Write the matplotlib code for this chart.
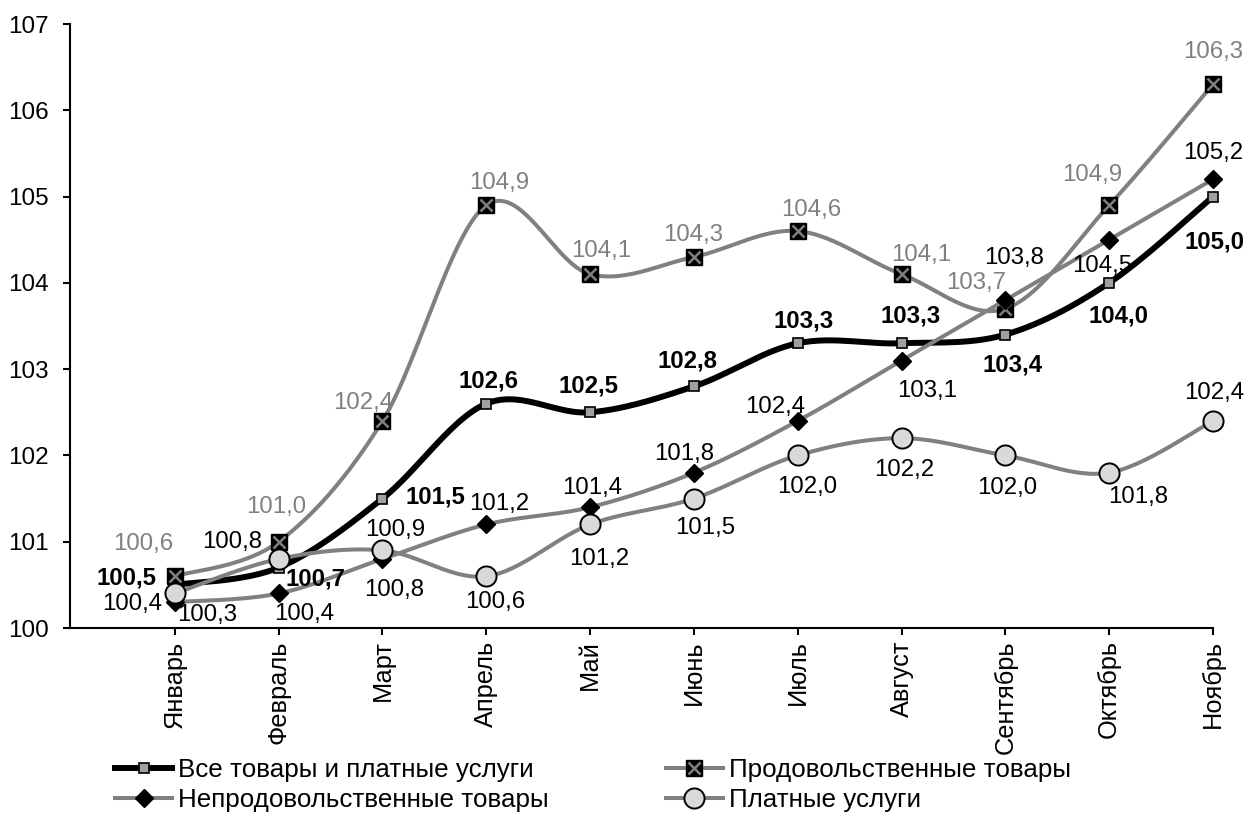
import numpy as np
import matplotlib
matplotlib.use("Agg")
import matplotlib.pyplot as plt
from matplotlib.lines import Line2D
from matplotlib.legend_handler import HandlerTuple

plt.rcParams['font.family'] = ['Liberation Sans', 'DejaVu Sans']

months = ["Январь", "Февраль", "Март", "Апрель", "Май", "Июнь", "Июль",
          "Август", "Сентябрь", "Октябрь", "Ноябрь"]
all_goods = [100.5, 100.7, 101.5, 102.6, 102.5, 102.8, 103.3, 103.3, 103.4, 104.0, 105.0]
food = [100.6, 101.0, 102.4, 104.9, 104.1, 104.3, 104.6, 104.1, 103.7, 104.9, 106.3]
nonfood = [100.3, 100.4, 100.8, 101.2, 101.4, 101.8, 102.4, 103.1, 103.8, 104.5, 105.2]
services = [100.4, 100.8, 100.9, 100.6, 101.2, 101.5, 102.0, 102.2, 102.0, 101.8, 102.4]
yticks = [100, 101, 102, 103, 104, 105, 106, 107]
legend_labels = ["Все товары и платные услуги", "Продовольственные товары",
                 "Непродовольственные товары", "Платные услуги"]

# label offsets in pixels (dx, dy up)
off_all = [(-48, 9), (37, -9), (53, 4), (2, 25), (-2, 29), (-6, 28), (6, 25), (9, 30), (7, -28), (9, -31), (2, -43)]
off_food = [(-32, 35), (-2, 37), (-19, 20), (13, 25), (11, 26), (-1, 24), (13, 24), (20, 22), (-29, 28), (-17, 33), (0, 35)]
off_nonfood = [(32, -10), (26, -18), (12, -29), (13, 23), (2, 22), (-10, 21), (-23, 16), (26, -28), (9, 45), (-7, -24), (0, 29)]
off_serv = [(-43, -8), (-47, 19), (13, 23), (9, -23), (9, -32), (11, -27), (9, -29), (3, -29), (2, -30), (29, -22), (1, 30)]

W, H = 1247, 813
fig = plt.figure(figsize=(W / 100, H / 100), dpi=100)
ax = fig.add_axes([70 / W, 1 - 628 / H, (1213 - 70) / W, (628 - 24) / H])

x = np.arange(len(months), dtype=float)


def smooth(xs, ys, n=30):
    P = np.column_stack([xs, ys])
    Pm = np.vstack([P[0], P, P[-1]])
    out = []
    t = np.linspace(0, 1, n)[:, None]
    for i in range(len(P) - 1):
        p0 = P[i]
        p3 = P[i + 1]
        p1 = p0 + (Pm[i + 2] - Pm[i]) / 6
        p2 = p3 - (Pm[i + 3] - Pm[i + 1]) / 6
        seg = (1 - t) ** 3 * p0 + 3 * (1 - t) ** 2 * t * p1 + 3 * (1 - t) * t ** 2 * p2 + t ** 3 * p3
        out.append(seg if i == 0 else seg[1:])
    s = np.vstack(out)
    return s[:, 0], s[:, 1]


gray = '#808080'
lw_black = 4.3
lw_gray = 2.9

sx, sy = smooth(x, all_goods)
ax.plot(sx, sy, color='black', lw=lw_black, zorder=3, clip_on=False)
ax.plot(x, all_goods, ls='none', marker='s', ms=7.3, mfc='#a0a0a0', mec='black', mew=1.2, zorder=4, clip_on=False)

sx, sy = smooth(x, food)
ax.plot(sx, sy, color=gray, lw=lw_gray, zorder=5, clip_on=False)
ax.plot(x, food, ls='none', marker='s', ms=11.5, mfc='black', mec='black', mew=1, zorder=6, clip_on=False)
ax.plot(x, food, ls='none', marker='x', ms=9, mec=gray, mew=1.8, zorder=7, clip_on=False)

sx, sy = smooth(x, nonfood)
ax.plot(sx, sy, color=gray, lw=lw_gray, zorder=8, clip_on=False)
ax.plot(x, nonfood, ls='none', marker='D', ms=8.7, mfc='black', mec='black', zorder=9, clip_on=False)

sx, sy = smooth(x, services)
ax.plot(sx, sy, color=gray, lw=lw_gray, zorder=10, clip_on=False)
ax.plot(x, services, ls='none', marker='o', ms=14.5, mfc='#d9d9d9', mec='black', mew=1.4, zorder=11, clip_on=False)


def fmt(v):
    return f"{v:.1f}".replace('.', ',')


fs = 17.3
for vals, offs, col, wt in [(all_goods, off_all, 'black', 'bold'),
                            (food, off_food, gray, 'normal'),
                            (nonfood, off_nonfood, 'black', 'normal'),
                            (services, off_serv, 'black', 'normal')]:
    for xi, v, (dx, dy) in zip(x, vals, offs):
        ax.annotate(fmt(v), (xi, v), xytext=(dx * 0.72, dy * 0.72), textcoords='offset points',
                    ha='center', va='center_baseline', fontsize=fs, color=col, fontweight=wt, zorder=20,
                    annotation_clip=False)

ax.set_xlim(-1.01, 10)
ax.set_ylim(100, 107)
ax.set_yticks(yticks)
ax.set_yticklabels([str(v) for v in yticks], fontsize=17.5)
ax.set_xticks(x)
ax.set_xticklabels(months, rotation=90, fontsize=18.3)
for s in ['top', 'right']:
    ax.spines[s].set_visible(False)
for s in ['left', 'bottom']:
    ax.spines[s].set_linewidth(1.5)
ax.tick_params(axis='both', direction='out', length=5, width=1.5, color='black')
ax.tick_params(axis='y', pad=10)
ax.tick_params(axis='x', pad=4)

h1 = Line2D([], [], color='black', lw=lw_black, marker='s', ms=7.3, mfc='#a0a0a0', mec='black', mew=1.2)
h2a = Line2D([], [], color=gray, lw=lw_gray, marker='s', ms=11.5, mfc='black', mec='black')
h2b = Line2D([], [], ls='none', marker='x', ms=9, mec=gray, mew=1.8)
h3 = Line2D([], [], color=gray, lw=lw_gray, marker='D', ms=8.7, mfc='black', mec='black')
h4 = Line2D([], [], color=gray, lw=lw_gray, marker='o', ms=14.5, mfc='#d9d9d9', mec='black', mew=1.4)
leg = fig.legend([h1, h3, (h2a, h2b), h4],
                 [legend_labels[0], legend_labels[2], legend_labels[1], legend_labels[3]],
                 handler_map={tuple: HandlerTuple(ndivide=1)},
                 loc='upper left', bbox_to_anchor=(115 / W, 1 - 758 / H), ncol=2, frameon=False,
                 fontsize=18.7, handlelength=2.2, handletextpad=0.23, columnspacing=4.5,
                 labelspacing=0.25, borderpad=0, borderaxespad=0)

fig.savefig('out.png', dpi=100)
